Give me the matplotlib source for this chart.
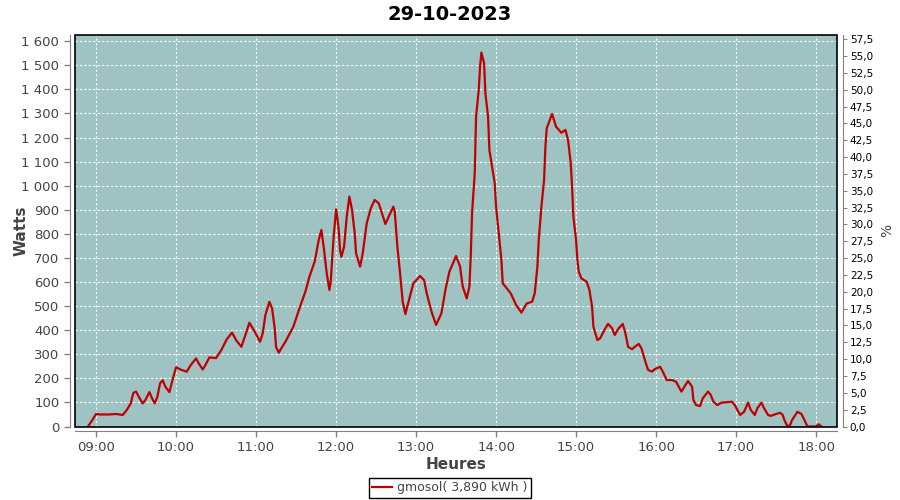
import matplotlib
matplotlib.use("Agg")
import matplotlib.pyplot as plt
from matplotlib.patches import Rectangle
from matplotlib.ticker import FuncFormatter, MultipleLocator

# Data : production gmosol 29-10-2023
#++++++++++++++++++++++++++++++++++++++++++++++++++++++++++++++++++++++++++++++#
times = [
    "08:54", "08:57", "09:00", "09:03", "09:10", "09:15", "09:20", "09:23", "09:26", "09:28",
    "09:30", "09:32", "09:35", "09:37", "09:40", "09:42", "09:44", "09:46", "09:48", "09:50",
    "09:52", "09:55", "09:58", "10:00", "10:04", "10:08", "10:11", "10:15", "10:17", "10:20",
    "10:22", "10:25", "10:30", "10:34", "10:38", "10:42", "10:45", "10:49", "10:52", "10:55",
    "10:59", "11:03", "11:05", "11:07", "11:10", "11:12", "11:14", "11:15", "11:17", "11:22",
    "11:28", "11:33", "11:37", "11:40", "11:44", "11:47", "11:49", "11:51", "11:53", "11:55",
    "11:56", "11:58", "12:00", "12:01", "12:02", "12:03", "12:04", "12:06", "12:08", "12:10",
    "12:12", "12:14", "12:15", "12:18", "12:20", "12:23", "12:26", "12:29", "12:32", "12:34",
    "12:37", "12:40", "12:43", "12:44", "12:46", "12:48", "12:50", "12:52", "12:54", "12:58",
    "13:03", "13:06", "13:08", "13:10", "13:12", "13:15", "13:19", "13:22", "13:25", "13:30",
    "13:33", "13:35", "13:38", "13:40", "13:41", "13:42", "13:44", "13:45", "13:47", "13:48",
    "13:49", "13:51", "13:52", "13:54", "13:55", "13:57", "13:59", "14:00", "14:02", "14:04",
    "14:05", "14:08", "14:11", "14:15", "14:19", "14:23", "14:27", "14:29", "14:31", "14:32",
    "14:34", "14:36", "14:37", "14:38", "14:42", "14:45", "14:49", "14:52", "14:54", "14:56",
    "14:57", "14:58", "15:00", "15:01", "15:02", "15:04", "15:08", "15:10", "15:12", "15:13",
    "15:16", "15:18", "15:22", "15:24", "15:27", "15:29", "15:32", "15:35", "15:37", "15:39",
    "15:42", "15:44", "15:47", "15:49", "15:52", "15:54", "15:57", "15:59", "16:03", "16:05",
    "16:08", "16:12", "16:15", "16:17", "16:19", "16:22", "16:24", "16:27", "16:28", "16:30",
    "16:33", "16:35", "16:39", "16:41", "16:43", "16:46", "16:49", "16:57", "16:59", "17:01",
    "17:03", "17:06", "17:09", "17:11", "17:14", "17:16", "17:19", "17:21", "17:24", "17:26",
    "17:30", "17:33", "17:35", "17:36", "17:38", "17:40", "17:42", "17:46", "17:49", "17:51",
    "17:53", "17:54", "18:00", "18:02", "18:04",
]
watts = [
    0, 25, 52, 50, 50, 52, 48, 68, 96, 140,
    145, 124, 96, 110, 143, 117, 96, 124, 179, 192,
    165, 143, 207, 246, 235, 228, 255, 283, 262, 237,
    255, 287, 284, 318, 362, 390, 359, 331, 380, 431,
    394, 352, 387, 463, 518, 491, 408, 330, 307, 352,
    415, 498, 560, 622, 685, 775, 816, 733, 636, 567,
    601, 775, 902, 865, 816, 733, 705, 747, 871, 955,
    899, 802, 719, 664, 719, 844, 906, 941, 927, 892,
    841, 878, 913, 892, 747, 636, 518, 467, 511, 595,
    625, 608, 553, 510, 470, 422, 470, 567, 643, 708,
    664, 581, 532, 581, 705, 886, 1052, 1287, 1398, 1494,
    1553, 1509, 1384, 1287, 1148, 1079, 1010, 913, 802, 692,
    595, 574, 553, 505, 473, 511, 518, 553, 664, 775,
    913, 1024, 1162, 1239, 1298, 1245, 1220, 1232, 1190, 1093,
    996, 871, 775, 692, 643, 615, 601, 567, 498, 415,
    359, 366, 408, 426, 408, 380, 408, 426, 387, 331,
    321, 331, 343, 325, 269, 235, 228, 238, 248, 228,
    193, 193, 186, 165, 145, 172, 189, 165, 110, 89,
    85, 117, 145, 131, 103, 89, 99, 103, 89, 69,
    48, 61, 99, 69, 48, 76, 99, 76, 48, 44,
    52, 57, 48, 30, 6, 0, 27, 61, 52, 30,
    6, 0, 0, 9, 0,
]
hour_ticks = list(range(9, 19))
title = "29-10-2023"
legend_label = "gmosol( 3,890 kWh )"
#++++++++++++++++++++++++++++++++++++++++++++++++++++++++++++++++++++++++++++++#

# convert HH:MM -> decimal hours
hours = [int(t[:2]) + int(t[3:]) / 60 for t in times]

bg = "#9ec3c2"
line_red = "#c00000"
gray = "#808080"
text_gray = "#444444"

fig = plt.figure(figsize=(9, 5), dpi=100)
ax = fig.add_axes([0.0837, 0.147, 0.8467, 0.783])
ax.set_facecolor(bg)

line, = ax.plot(hours, watts, color=line_red, lw=1.6, label=legend_label, zorder=3)

ax.set_xlim(8.741, 18.266)
ax.set_ylim(0, 1626)

# grid
ax.set_xticks(hour_ticks)
ax.set_xticklabels([f"{h:02d}:00" for h in hour_ticks])
ax.yaxis.set_major_locator(MultipleLocator(100))
ax.yaxis.set_major_formatter(FuncFormatter(lambda v, p: f"{int(v):,}".replace(",", " ")))
ax.grid(True, color="white", linestyle=(0, (2, 2)), lw=0.8)
ax.set_axisbelow(True)

# axes lines offset from plot frame, in gray
for s in ["top", "right"]:
    ax.spines[s].set_visible(False)
ax.spines["left"].set_position(("outward", 4))
ax.spines["bottom"].set_position(("outward", 3))
for s in ["left", "bottom"]:
    ax.spines[s].set_color(gray)
ax.tick_params(axis="both", colors=gray, length=4, width=1, labelcolor=text_gray)
ax.tick_params(axis="y", labelsize=9.5)
ax.tick_params(axis="x", labelsize=9.5)

# black frame round the plot area
ax.add_patch(Rectangle((0, 0), 1, 1, transform=ax.transAxes, fill=False,
                       edgecolor="black", lw=1.2, clip_on=False, zorder=5))

# right axis (%)
ax2 = ax.twinx()
ax2.set_ylim(0, 58.14)
ax2.yaxis.set_major_locator(MultipleLocator(2.5))
ax2.yaxis.set_major_formatter(FuncFormatter(lambda v, p: f"{v:.1f}".replace(".", ",")))
for s in ["top", "left", "bottom"]:
    ax2.spines[s].set_visible(False)
ax2.spines["right"].set_position(("outward", 4))
ax2.spines["right"].set_color(gray)
ax2.tick_params(axis="y", colors=gray, length=3, labelcolor="black", labelsize=7.5, pad=2)
ax2.set_ylabel("%", fontsize=10, color=text_gray)
ax2.yaxis.set_label_coords(1.056, 0.5)

# labels
ax.set_ylabel("Watts", fontsize=11, fontweight="bold", color=text_gray)
ax.yaxis.set_label_coords(-0.062, 0.5)
ax.set_xlabel("Heures", fontsize=11, fontweight="bold", color=text_gray, labelpad=2)
fig.suptitle(title, fontsize=14, fontweight="bold", y=0.972, va="center")

leg = fig.legend(handles=[line], loc="center", bbox_to_anchor=(0.5, 0.024),
                 fancybox=False, edgecolor="black", framealpha=1, fontsize=9,
                 handlelength=1.6, handletextpad=0.4, borderpad=0.3)
for t in leg.get_texts():
    t.set_color(text_gray)
leg.get_frame().set_linewidth(1.0)

fig.savefig("out.png", dpi=100)
